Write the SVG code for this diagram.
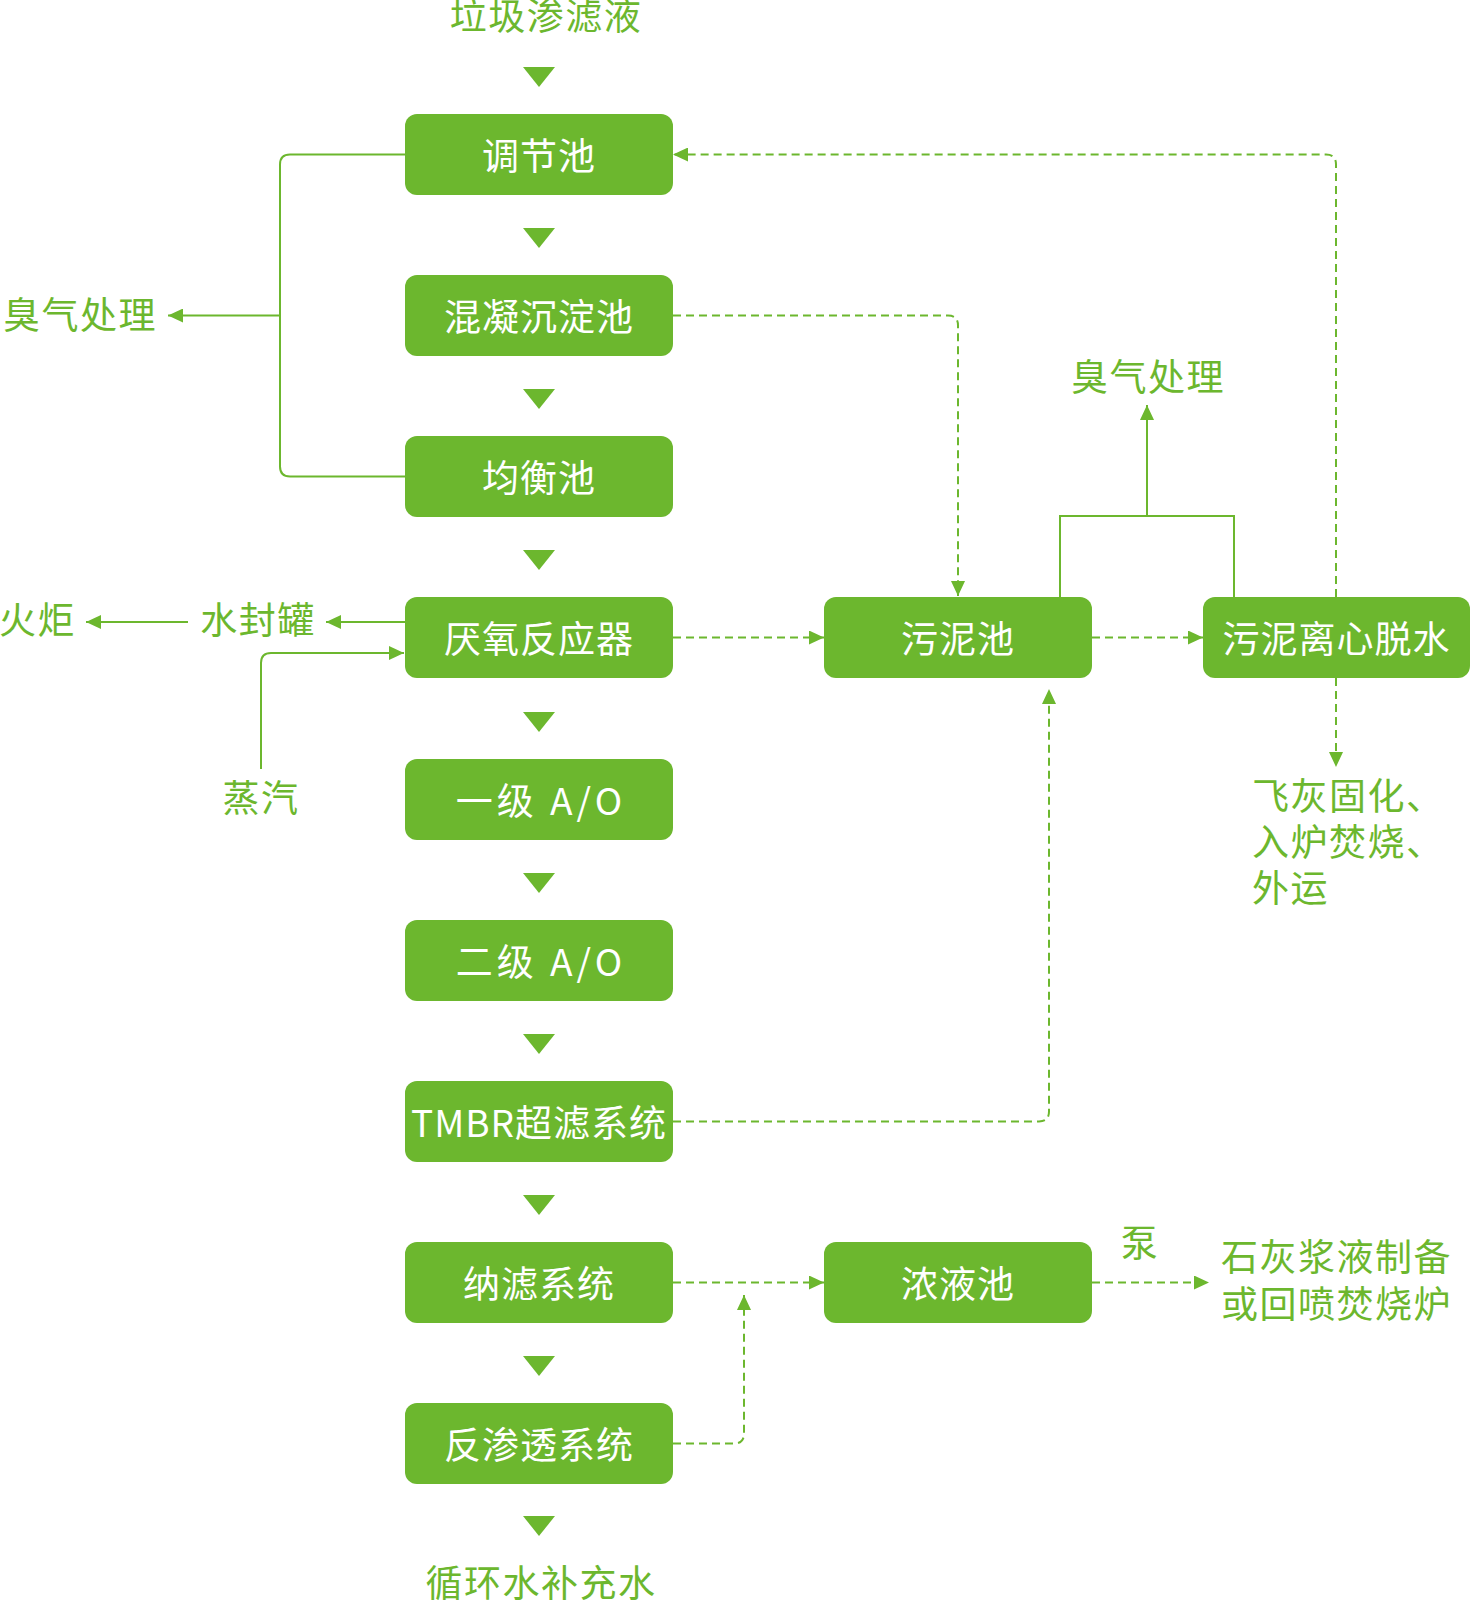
<svg xmlns="http://www.w3.org/2000/svg" width="1471" height="1600" viewBox="0 0 1471 1600">
<defs>
<style>
.box{fill:#6cb72e}
.nt{fill:#ffffff;font-family:"Noto Sans CJK SC","Noto Sans",sans-serif;font-size:37px;letter-spacing:1px;text-anchor:middle}
.ao{letter-spacing:4px}
.lt{fill:#6cb72e;font-family:"Noto Sans CJK SC","Noto Sans",sans-serif;font-size:37px;letter-spacing:1.5px}
.ln{fill:none;stroke:#6cb72e;stroke-width:2}
.ds{fill:none;stroke:#6cb72e;stroke-width:2;stroke-dasharray:8 5}
.tri{fill:#6cb72e}
</style>
<marker id="ah" markerUnits="userSpaceOnUse" markerWidth="15" markerHeight="14" refX="15" refY="7" orient="auto" viewBox="0 0 15 14">
<path d="M0,0 L15,7 L0,14 z" fill="#6cb72e"/>
</marker>
</defs>
<rect width="1471" height="1600" fill="#ffffff"/>

<g id="flow-arrows">
<polygon class="tri" points="523,67 555,67 539,87"/>
<polygon class="tri" points="523,228 555,228 539,248"/>
<polygon class="tri" points="523,389 555,389 539,409"/>
<polygon class="tri" points="523,550 555,550 539,570"/>
<polygon class="tri" points="523,712 555,712 539,732"/>
<polygon class="tri" points="523,873 555,873 539,893"/>
<polygon class="tri" points="523,1034 555,1034 539,1054"/>
<polygon class="tri" points="523,1195 555,1195 539,1215"/>
<polygon class="tri" points="523,1356 555,1356 539,1376"/>
<polygon class="tri" points="523,1516 555,1516 539,1536"/>
</g>

<g id="connectors">
<path class="ln" d="M405,154.5 H290 Q280,154.5 280,164.5 V466.5 Q280,476.5 290,476.5 H405"/>
<path class="ln" d="M280,315.5 H168" marker-end="url(#ah)"/>
<path class="ln" d="M405,622 H326" marker-end="url(#ah)"/>
<path class="ln" d="M188,622 H86" marker-end="url(#ah)"/>
<path class="ln" d="M261,769 V663 Q261,653 271,653 H404" marker-end="url(#ah)"/>
<path class="ds" d="M673,315.5 H948 Q958,315.5 958,325.5 V596" marker-end="url(#ah)"/>
<path class="ds" d="M673,637.5 H824" marker-end="url(#ah)"/>
<path class="ds" d="M1092,637.5 H1203" marker-end="url(#ah)"/>
<path class="ds" d="M1336,597 V164.5 Q1336,154.5 1326,154.5 H673" marker-end="url(#ah)"/>
<path class="ds" d="M1336,678 V767" marker-end="url(#ah)"/>
<path class="ln" d="M1060,597 V516 H1234 V597"/>
<path class="ln" d="M1147,516 V405" marker-end="url(#ah)"/>
<path class="ds" d="M673,1121.5 H1039 Q1049,1121.5 1049,1111.5 V689" marker-end="url(#ah)"/>
<path class="ds" d="M673,1282.5 H824" marker-end="url(#ah)"/>
<path class="ds" d="M673,1443.5 H734 Q744,1443.5 744,1433.5 V1295" marker-end="url(#ah)"/>
<path class="ds" d="M1092,1282.5 H1209" marker-end="url(#ah)"/>
</g>

<g id="n-tiaojie"><rect class="box" x="405" y="114" width="268" height="81" rx="12"/><text class="nt" x="539" y="169.5">调节池</text></g>
<g id="n-hunning"><rect class="box" x="405" y="275" width="268" height="81" rx="12"/><text class="nt" x="539" y="330.5">混凝沉淀池</text></g>
<g id="n-junheng"><rect class="box" x="405" y="436" width="268" height="81" rx="12"/><text class="nt" x="539" y="491.5">均衡池</text></g>
<g id="n-yanyang"><rect class="box" x="405" y="597" width="268" height="81" rx="12"/><text class="nt" x="539" y="652.5">厌氧反应器</text></g>
<g id="n-ao1"><rect class="box" x="405" y="759" width="268" height="81" rx="12"/><text class="nt ao" x="541" y="814.5">一级 A/O</text></g>
<g id="n-ao2"><rect class="box" x="405" y="920" width="268" height="81" rx="12"/><text class="nt ao" x="541" y="975.5">二级 A/O</text></g>
<g id="n-tmbr"><rect class="box" x="405" y="1081" width="268" height="81" rx="12"/><text class="nt" x="539" y="1136.5">TMBR超滤系统</text></g>
<g id="n-nalv"><rect class="box" x="405" y="1242" width="268" height="81" rx="12"/><text class="nt" x="539" y="1297.5">纳滤系统</text></g>
<g id="n-fanshentou"><rect class="box" x="405" y="1403" width="268" height="81" rx="12"/><text class="nt" x="539" y="1458.5">反渗透系统</text></g>
<g id="n-wunichi"><rect class="box" x="824" y="597" width="268" height="81" rx="12"/><text class="nt" x="958" y="652.5">污泥池</text></g>
<g id="n-tuoshui"><rect class="box" x="1203" y="597" width="267" height="81" rx="12"/><text class="nt" x="1336.5" y="652.5">污泥离心脱水</text></g>
<g id="n-nongye"><rect class="box" x="824" y="1242" width="268" height="81" rx="12"/><text class="nt" x="958" y="1297.5">浓液池</text></g>

<g id="labels">
<text class="lt" x="546" y="30" text-anchor="middle">垃圾渗滤液</text>
<text class="lt" x="3" y="329">臭气处理</text>
<text class="lt" x="-1" y="634">火炬</text>
<text class="lt" x="258" y="634" text-anchor="middle">水封罐</text>
<text class="lt" x="261" y="812" text-anchor="middle">蒸汽</text>
<text class="lt" x="1148" y="391" text-anchor="middle">臭气处理</text>
<text class="lt" x="1252" y="810">飞灰固化、</text>
<text class="lt" x="1252" y="856">入炉焚烧、</text>
<text class="lt" x="1252" y="902">外运</text>
<text class="lt" x="1140" y="1257" text-anchor="middle">泵</text>
<text class="lt" x="1221" y="1271">石灰浆液制备</text>
<text class="lt" x="1221" y="1318">或回喷焚烧炉</text>
<text class="lt" x="541" y="1597" text-anchor="middle">循环水补充水</text>
</g>
</svg>
